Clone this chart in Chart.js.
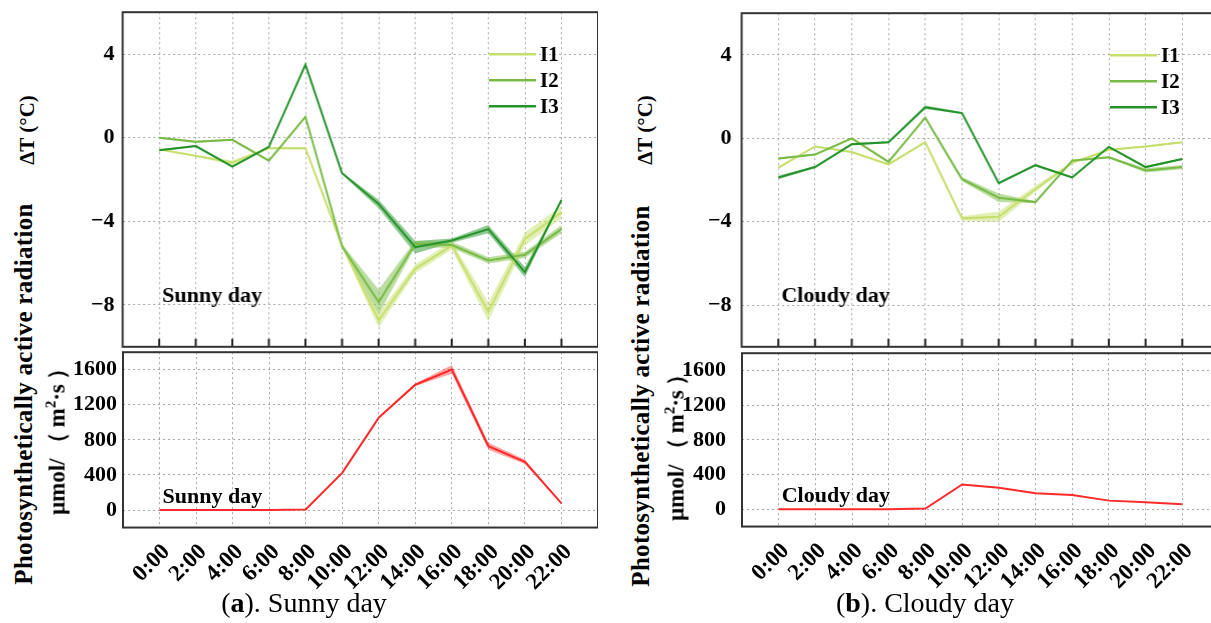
<!DOCTYPE html>
<html>
<head>
<meta charset="utf-8">
<script src="https://cdn.jsdelivr.net/npm/chart.js@4.4.1/dist/chart.umd.min.js"></script>
<style>
  body { margin: 0; width: 1211px; height: 623px; overflow: hidden; background: #fff; position: relative; font-family: 'Liberation Serif', serif; }
  canvas { position: absolute; }
  .vt { position: absolute; font-weight: bold; white-space: nowrap; color: #000; transform: translate(-50%, -50%) rotate(-90deg); }
  .vt .p { display: inline-block; margin: 0 4px; }
  .cap { position: absolute; font-size: 28px; white-space: nowrap; transform: translateX(-50%); color: #000; }
</style>
</head>
<body>
<canvas id="sunT"></canvas>
<canvas id="sunP"></canvas>
<canvas id="cloT"></canvas>
<canvas id="cloP"></canvas>

<div class="vt" style="left:27px;top:130px;font-size:21px">ΔT (°C)</div>
<div class="vt" style="left:24px;top:394px;font-size:25px;letter-spacing:0.3px">Photosynthetically active radiation</div>
<div class="vt" style="left:57px;top:434px;font-size:23px">μmol/<span class="p">（</span>m<sup style="font-size:15px">2</sup>·s<span class="p">）</span></div>
<div class="vt" style="left:645px;top:130px;font-size:21px">ΔT (°C)</div>
<div class="vt" style="left:641px;top:396px;font-size:25px;letter-spacing:0.3px">Photosynthetically active radiation</div>
<div class="vt" style="left:676px;top:440px;font-size:23px">μmol/<span class="p">（</span>m<sup style="font-size:15px">2</sup>·s<span class="p">）</span></div>

<div class="cap" style="left:304px;top:587px">(<b>a</b>). Sunny day</div>
<div class="cap" style="left:925px;top:587px">(<b>b</b>). Cloudy day</div>

<script>
// horas del día
const hours = ['0:00', '2:00', '4:00', '6:00', '8:00', '10:00', '12:00', '14:00', '16:00', '18:00', '20:00', '22:00'];
const dtTicks = [-8, -4, 0, 4];
const parTicks = [0, 400, 800, 1200, 1600];
const seriesNames = ['I1', 'I2', 'I3'];
const seriesColors = ['#c6df6c', '#78bb45', '#24932a'];

// ΔT día soleado
const sunI1 = [-0.56, -0.87, -1.19, -0.5, -0.5, -5.16, -8.73, -6.27, -5.16, -8.33, -4.84, -3.57];
const sunI2 = [0, -0.2, -0.1, -1.1, 1.0, -5.2, -7.86, -5.08, -5.13, -5.87, -5.6, -4.37];
const sunI3 = [-0.6, -0.4, -1.38, -0.44, 3.49, -1.7, -3.17, -5.24, -4.92, -4.37, -6.43, -2.98];
const sunI1Err = [0.05, 0.05, 0.1, 0.05, 0.05, 0.1, 0.35, 0.2, 0.2, 0.45, 0.3, 0.3];
const sunI2Err = [0.05, 0.05, 0.05, 0.05, 0.05, 0.1, 0.6, 0.15, 0.15, 0.15, 0.15, 0.2];
const sunI3Err = [0.05, 0.05, 0.05, 0.05, 0.1, 0.05, 0.2, 0.3, 0.1, 0.2, 0.25, 0.05];

// ΔT día nublado
const cloI1 = [-1.41, -0.39, -0.66, -1.25, -0.19, -3.84, -3.76, -2.43, -1.18, -0.55, -0.39, -0.19];
const cloI2 = [-0.97, -0.78, 0, -1.13, 0.99, -1.96, -2.85, -3.06, -1.07, -0.91, -1.54, -1.38];
const cloI3 = [-1.88, -1.38, -0.28, -0.19, 1.49, 1.21, -2.15, -1.29, -1.88, -0.41, -1.38, -0.99];
const cloI1Err = [0.05, 0.05, 0.05, 0.05, 0.05, 0.1, 0.25, 0.15, 0.05, 0.05, 0.05, 0.05];
const cloI2Err = [0.05, 0.05, 0.05, 0.05, 0.05, 0.1, 0.2, 0.05, 0.05, 0.05, 0.1, 0.1];
const cloI3Err = [0.08, 0.05, 0.05, 0.05, 0.08, 0.05, 0.05, 0.05, 0.05, 0.05, 0.05, 0.05];

// radiación fotosintéticamente activa
const sunPar = [0, 0, 0, 0, 5, 424, 1054, 1429, 1603, 728, 550, 76];
const sunParErr = [0, 0, 0, 0, 0, 10, 15, 15, 50, 40, 25, 5];
const cloPar = [0, 0, 0, 0, 8, 286, 248, 183, 164, 99, 80, 57];
const cloParErr = [0, 0, 0, 0, 0, 4, 4, 4, 4, 3, 3, 3];

const FONT = "'Liberation Serif', serif";
Chart.defaults.font.family = FONT;
Chart.defaults.color = '#000';

const pts = arr => arr.map((v, i) => ({ x: i, y: v }));
const shift = (arr, err, s) => arr.map((v, i) => ({ x: i, y: v + s * err[i] }));
const fmt = v => (v < 0 ? '\u2212' + Math.abs(v) : String(v));

function alpha(hex, a) {
  const n = parseInt(hex.slice(1), 16);
  return `rgba(${n >> 16},${(n >> 8) & 255},${n & 255},${a})`;
}

// marco, marcas interiores, nota y leyenda
const framePlugin = {
  id: 'frame',
  afterDatasetsDraw(chart, args, opts) {
    const { ctx, chartArea: a, scales } = chart;
    ctx.save();
    if (opts.innerTicks) {
      ctx.strokeStyle = '#222';
      ctx.lineWidth = 2;
      scales.x.ticks.forEach(t => {
        const px = scales.x.getPixelForValue(t.value);
        ctx.beginPath();
        ctx.moveTo(px, a.bottom);
        ctx.lineTo(px, a.bottom - 8);
        ctx.stroke();
      });
    }
    ctx.strokeStyle = '#333';
    ctx.lineWidth = 2;
    ctx.strokeRect(a.left, a.top, a.right - a.left, a.bottom - a.top);

    if (opts.note) {
      ctx.font = `bold 22px ${FONT}`;
      ctx.fillStyle = '#000';
      ctx.textBaseline = 'alphabetic';
      const nx = scales.x.getPixelForValue(0) + 3;
      const ny = opts.noteAtZero ? scales.y.getPixelForValue(0) - 7 : a.bottom - 45;
      ctx.fillText(opts.note, nx, ny);
    }
    if (opts.legend) {
      ctx.font = `bold 21px ${FONT}`;
      ctx.textBaseline = 'middle';
      seriesNames.forEach((name, i) => {
        const ly = a.top + 42 + i * 26;
        ctx.strokeStyle = seriesColors[i];
        ctx.lineWidth = 2.5;
        ctx.beginPath();
        ctx.moveTo(a.right - 109, ly);
        ctx.lineTo(a.right - 62, ly);
        ctx.stroke();
        ctx.fillStyle = '#000';
        ctx.fillText(name, a.right - 58, ly + 1);
      });
    }
    ctx.restore();
  }
};

function xScale(showLabels) {
  return {
    type: 'linear',
    min: -1,
    max: 12,
    afterBuildTicks: s => { s.ticks = hours.map((h, i) => ({ value: i })); },
    ticks: {
      display: showLabels,
      autoSkip: false,
      maxRotation: 45,
      minRotation: 45,
      padding: 11,
      labelOffset: 7,
      font: { size: 23, weight: 'bold' },
      color: '#000',
      callback: v => hours[v]
    },
    grid: { color: '#a8a8a8', lineWidth: 1, drawTicks: false },
    border: { display: false, dash: [2, 3] }
  };
}

function yScale(min, max, tickList, pad) {
  return {
    min: min,
    max: max,
    afterBuildTicks: s => { s.ticks = tickList.map(v => ({ value: v })); },
    ticks: {
      padding: pad,
      font: { size: 22, weight: 'bold' },
      color: '#000',
      callback: v => fmt(v)
    },
    grid: { color: '#a8a8a8', lineWidth: 1, drawTicks: false },
    border: { display: false, dash: [2, 3] }
  };
}

function tempDatasets(series, errs) {
  const lines = [2, 1, 0].map(i => ({
    data: pts(series[i]),
    borderColor: seriesColors[i],
    borderWidth: 2,
    pointRadius: 0,
    fill: false
  }));
  const bands = [];
  [0, 1, 2].forEach(i => {
    bands.push({ data: shift(series[i], errs[i], -1), borderWidth: 0, pointRadius: 0, fill: false });
    bands.push({ data: shift(series[i], errs[i], 1), borderWidth: 0, pointRadius: 0, fill: '-1', backgroundColor: alpha(seriesColors[i], 0.5) });
  });
  return lines.concat(bands);
}

function parDatasets(vals, err) {
  return [
    { data: pts(vals), borderColor: '#ff2a2a', borderWidth: 2, pointRadius: 0, fill: false },
    { data: shift(vals, err, -1), borderWidth: 0, pointRadius: 0, fill: false },
    { data: shift(vals, err, 1), borderWidth: 0, pointRadius: 0, fill: '-1', backgroundColor: 'rgba(255,60,60,0.45)' }
  ];
}

function build(canvas, box, datasets, x, y, frameOpts) {
  canvas.width = box[2];
  canvas.height = box[3];
  canvas.style.left = box[0] + 'px';
  canvas.style.top = box[1] + 'px';
  canvas.style.width = box[2] + 'px';
  canvas.style.height = box[3] + 'px';
  return new Chart(canvas.getContext('2d'), {
    type: 'line',
    data: { datasets: datasets },
    options: {
      responsive: false,
      animation: false,
      devicePixelRatio: 1,
      layout: { padding: 0 },
      plugins: { legend: { display: false }, tooltip: { enabled: false }, frame: frameOpts },
      scales: { x: x, y: y }
    },
    plugins: [framePlugin]
  });
}

// área de trazado deseada: [izq, arriba, der, abajo]
function makeChart(id, area, makeData, x, y, frameOpts) {
  const canvas = document.getElementById(id);
  const box = [area[0] - 120, area[1] - 20, area[2] - area[0] + 160, area[3] - area[1] + 100];
  let chart = build(canvas, box, makeData(), x, y, frameOpts);
  const a = chart.chartArea;
  const fixed = [
    area[0] - a.left,
    area[1] - a.top,
    box[2] + (area[2] - area[0]) - (a.right - a.left),
    box[3] + (area[3] - area[1]) - (a.bottom - a.top)
  ];
  chart.destroy();
  return build(canvas, fixed, makeData(), x, y, frameOpts);
}

// Día soleado
makeChart('sunT', [123, 12, 598, 347],
  () => tempDatasets([sunI1, sunI2, sunI3], [sunI1Err, sunI2Err, sunI3Err]),
  xScale(false), yScale(-10, 6, dtTicks, 8),
  { innerTicks: true, note: 'Sunny day', legend: true });

makeChart('sunP', [123, 352, 598, 528],
  () => parDatasets(sunPar, sunParErr),
  xScale(true), yScale(-200, 1800, parTicks, 6),
  { note: 'Sunny day', noteAtZero: true });

// Día nublado
makeChart('cloT', [742, 13, 1219, 347],
  () => tempDatasets([cloI1, cloI2, cloI3], [cloI1Err, cloI2Err, cloI3Err]),
  xScale(false), yScale(-10, 6, dtTicks, 10),
  { innerTicks: true, note: 'Cloudy day', legend: true });

makeChart('cloP', [742, 353, 1219, 527],
  () => parDatasets(cloPar, cloParErr),
  xScale(true), yScale(-200, 1800, parTicks, 16),
  { note: 'Cloudy day', noteAtZero: true });
</script>
</body>
</html>
